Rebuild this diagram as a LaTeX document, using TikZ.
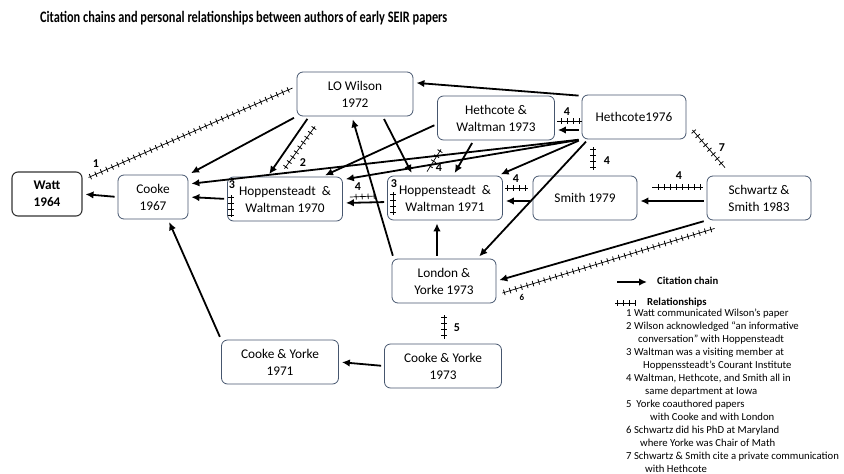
\documentclass[tikz,border=0pt]{standalone}
\usepackage{fontspec}
\setmainfont{Carlito}
\usetikzlibrary{arrows.meta,decorations.markings}
\definecolor{boxedge}{RGB}{70,86,110}
\tikzset{
  paper/.style={draw=boxedge, line width=0.8pt, rounded corners=6pt, align=center,
    minimum height=44pt, inner sep=1pt, font=\fontsize{13.3}{17}\selectfont},
  cite/.style={line width=1.8pt, -{Latex[length=8pt,width=7.5pt]}, shorten >=3pt, shorten <=3pt},
  rel/.style={line width=0.7pt, postaction={decorate}, decoration={markings,
    mark=between positions 2pt and -1pt step 6pt with {\draw[line width=0.8pt] (0pt,-2.8pt) -- (0pt,2.8pt);}}},
  tag/.style={font=\bfseries\fontsize{12}{12}\selectfont, inner sep=0pt},
  note/.style={anchor=west, inner sep=0pt, text height=7.5pt, text depth=2.2pt, font=\fontsize{10.7}{12}\selectfont},
}

\begin{document}
\begin{tikzpicture}[x=1pt, y=-1pt]
    \useasboundingbox (0,0) rectangle (844,474);
    \node (title) at (40,18) [anchor=west, inner sep=0pt, font=\bfseries\fontsize{16}{16}\selectfont]
        {\scalebox{0.77}[1]{Citation chains and personal relationships between authors of early SEIR papers}};

    % papers
    \node (watt) at (47,194) [paper, minimum width=70pt, draw=black!80, line width=1.1pt,
        font=\bfseries\fontsize{13.3}{17}\selectfont] {Watt\\1964};
    \node (cooke) at (153,197) [paper, minimum width=70pt] {Cooke\\1967};
    \node (hw70) at (285,199) [paper, minimum width=115pt] {Hoppensteadt\ \ \&\\Waltman 1970};
    \node (hw71) at (445,198) [paper, minimum width=115pt] {Hoppensteadt\ \ \&\\Waltman 1971};
    \node (smith) at (585,198) [paper, minimum width=104pt] {Smith 1979};
    \node (ss83) at (759,198) [paper, minimum width=104pt] {Schwartz \&\\Smith 1983};
    \node (wilson) at (355,94) [paper, minimum width=116pt] {LO Wilson\\1972};
    \node (hw73) at (496,118) [paper, minimum width=117pt] {Hethcote \&\\Waltman 1973};
    \node (h76) at (634,117) [paper, minimum width=104pt] {Hethcote1976};
    \node (ly73) at (444,281) [paper, minimum width=104pt] {London \&\\Yorke 1973};
    \node (cy71) at (280,362) [paper, minimum width=117pt] {Cooke \& Yorke\\1971};
    \node (cy73) at (443,366) [paper, minimum width=117pt] {Cooke \& Yorke\\1973};

    % citation chains
    \draw (cooke.west) edge[cite] (watt.east);
    \draw (hw70.west) edge[cite] (cooke.east);
    \draw ([yshift=-4pt]hw71.west) edge[cite] ([yshift=-4pt]hw70.east);
    \draw ([yshift=-3pt]smith.west) edge[cite] ([yshift=-3pt]hw71.east);
    \draw ([yshift=-3pt]ss83.west) edge[cite] ([yshift=-3pt]smith.east);
    \draw ([yshift=-13pt]h76.west) edge[cite] ([yshift=-12pt]hw73.east);
    \draw (h76.158) edge[cite] (wilson.11);
    \draw (h76.south west) edge[cite] ([yshift=13pt]cooke.east);
    \draw (h76.south west) edge[cite] ([yshift=-3pt]hw70.north east);
    \draw (h76.south west) edge[cite] ([xshift=-5pt]hw71.north east);
    \draw (h76.206) edge[cite] (ly73.34);
    \draw (wilson.south west) edge[cite] (cooke.north east);
    \draw (wilson.206) edge[cite] (hw70.128);
    \draw (wilson.321) edge[cite] (hw71.145);
    \draw ([yshift=-6pt]hw73.west) edge[cite] (hw70.31);
    \draw (hw73.225) edge[cite] (hw71.70);
    \draw (ly73.156) edge[cite] (wilson.262);
    \draw ([xshift=-7pt]ly73.north) edge[cite] ([xshift=-8pt]hw71.south);
    \draw (ss83.south west) edge[cite] (ly73.east);
    \draw (cy73.west) edge[cite] (cy71.east);
    \draw (cy71.north west) edge[cite] ([xshift=15pt]cooke.south);

    % relationships
    \draw[rel] ([xshift=6pt,yshift=-6pt]watt.north east) -- ([xshift=-4pt,yshift=6pt]wilson.west);
    \draw[rel] ([xshift=6pt,yshift=-10pt]wilson.206) -- ([xshift=17pt,yshift=8pt]hw70.128);
    \draw[rel] ([xshift=4pt,yshift=4pt]hw70.west) -- ([xshift=4pt,yshift=-18pt]hw70.west);
    \draw[rel] ([xshift=6pt,yshift=6pt]hw71.west) -- ([xshift=6pt,yshift=-17pt]hw71.west);
    \draw[rel] ([xshift=-11pt,yshift=2pt]hw71.west) -- ([xshift=7pt,yshift=2pt]hw70.east);
    \draw[rel] ([xshift=-5pt,yshift=10pt]smith.west) -- ([xshift=2.5pt,yshift=10pt]hw71.east);
    \draw[rel] ([xshift=-4pt,yshift=11pt]ss83.west) -- ([xshift=15pt,yshift=11pt]smith.east);
    \draw[rel] ([yshift=-4pt]h76.west) -- ([xshift=2pt,yshift=-3pt]hw73.east);
    \draw[rel] ([xshift=-41pt,yshift=-8pt]h76.south) -- ([xshift=8pt,yshift=6pt]smith.north);
    \draw[rel] ([xshift=-55pt,yshift=-9pt]hw73.south) -- ([xshift=-18pt,yshift=4pt]hw71.north);
    \draw[rel] ([yshift=-12pt]ly73.south) -- ([yshift=-36pt]ly73.south);
    \draw[rel] ([xshift=6pt,yshift=-12pt]ly73.east) -- ([xshift=8pt,yshift=-8pt]ss83.south west);
    \draw[rel] ([xshift=6pt,yshift=-13pt]h76.east) -- ([xshift=-34pt,yshift=8pt]ss83.north);

    \node (t1) at (96,164) [tag] {1};
    \node (t2) at (303,163) [tag] {2};
    \node (t3a) at (232,185) [tag] {3};
    \node (t3b) at (394,184) [tag] {3};
    \node (t4a) at (358,187) [tag] {4};
    \node (t4b) at (516,179) [tag] {4};
    \node (t4c) at (679,176) [tag] {4};
    \node (t4d) at (567,112) [tag] {4};
    \node (t4e) at (607,161) [tag] {4};
    \node (t4f) at (439,168) [tag] {4};
    \node (t5) at (457,328) [tag] {5};
    \node (t6) at (522,297) [tag, font=\bfseries\fontsize{9}{9}\selectfont] {6};
    \node (t7) at (722,148) [tag] {7};

    % legend
    \coordinate (legcitea) at (617,282);
    \coordinate (legciteb) at (647,282);
    \draw (legcitea) edge[cite, shorten <=0pt, shorten >=0pt] (legciteb);
    \node (legcite) at (657,282) [note, font=\bfseries\fontsize{10.7}{12}\selectfont] {Citation chain};
    \coordinate (legrela) at (615,303);
    \coordinate (legrelb) at (636,303);
    \draw[rel] (legrela) -- (legrelb);
    \node (legrel) at (647,303) [note, font=\bfseries\fontsize{10.7}{12}\selectfont] {Relationships};
    \node (n1) at (626,314) [note] {1 Watt communicated Wilson’s paper};
    \node (n2) at (626,327) [note] {2 Wilson acknowledged “an informative};
    \node (n2b) at (638,340) [note] {conversation” with Hoppensteadt};
    \node (n3) at (626,353) [note] {3 Waltman was a visiting member at};
    \node (n3b) at (643,366) [note] {Hoppenssteadt’s Courant Institute};
    \node (n4) at (626,379) [note] {4 Waltman, Hethcote, and Smith all in};
    \node (n4b) at (645,392) [note] {same department at Iowa};
    \node (n5) at (626,405) [note] {5\ \ Yorke coauthored papers};
    \node (n5b) at (650,418) [note] {with Cooke and with London};
    \node (n6) at (626,431) [note] {6 Schwartz did his PhD at Maryland};
    \node (n6b) at (640,444) [note] {where Yorke was Chair of Math};
    \node (n7) at (626,457) [note] {7 Schwartz \& Smith cite a private communication};
    \node (n7b) at (645,470) [note] {with Hethcote};
\end{tikzpicture}
\end{document}
